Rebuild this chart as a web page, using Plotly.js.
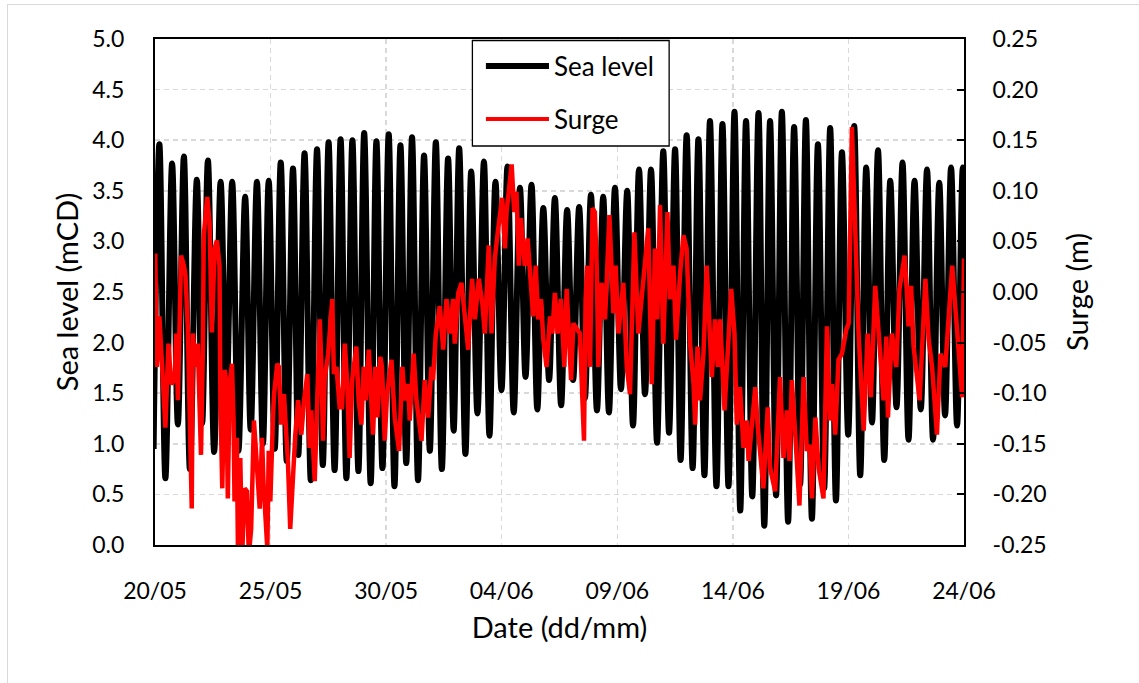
<!DOCTYPE html>
<html>
<head>
<meta charset="utf-8">
<script src="https://cdn.plot.ly/plotly-3.0.1.min.js"></script>
<style>
html,body{margin:0;padding:0;background:#fff;}
#frame{position:absolute;left:7px;top:4px;width:1200px;height:720px;border:1.5px solid #d9d9d9;box-sizing:border-box;}
#chart{position:absolute;left:0;top:0;width:1139px;height:683px;}
</style>
</head>
<body>
<div id="frame"></div>
<div id="chart"></div>
<script>
// Days since 20/05 00:00
const dayTicks = [0, 5, 10, 15, 20, 25, 30, 35];
const dateLabels = ['20/05', '25/05', '30/05', '04/06', '09/06', '14/06', '19/06', '24/06'];
const levelTicks = [0, 0.5, 1, 1.5, 2, 2.5, 3, 3.5, 4, 4.5, 5];
const surgeTicks = [-0.25, -0.2, -0.15, -0.1, -0.05, 0, 0.05, 0.1, 0.15, 0.2, 0.25];
const surgeTickLabels = ['-0.25', '-0.20', '-0.15', '-0.10', '-0.05', '0.00', '0.05', '0.10', '0.15', '0.20', '0.25'];

// Sea level: high waters (time in days, level in mCD)
const highTimes = [0.19,0.74,1.25,1.81,2.29,2.84,3.34,3.90,4.41,4.92,5.44,5.97,6.47,7.01,7.51,8.03,8.54,9.05,9.58,10.11,10.62,11.12,11.64,12.15,12.68,13.16,13.68,14.23,14.73,15.25,15.79,16.29,16.80,17.30,17.83,18.35,18.86,19.39,19.90,20.43,20.94,21.46,21.99,22.50,23.00,23.51,24.01,24.55,25.07,25.57,26.11,26.61,27.12,27.65,28.16,28.68,29.21,29.72,30.25,30.77,31.28,31.81,32.34,32.86,33.40,33.93,34.44,34.95];
const highLevels = [3.96,3.77,3.84,3.61,3.80,3.59,3.59,3.44,3.59,3.60,3.78,3.72,3.87,3.91,3.98,4.01,4.00,4.07,3.99,4.06,3.95,4.03,3.85,3.98,3.82,3.92,3.69,3.79,3.59,3.74,3.53,3.56,3.33,3.43,3.31,3.34,3.46,3.44,3.53,3.50,3.71,3.71,3.89,3.91,4.05,4.01,4.19,4.16,4.28,4.19,4.27,4.19,4.28,4.13,4.20,3.96,4.12,3.88,4.14,3.73,3.90,3.60,3.78,3.60,3.71,3.58,3.73,3.73];
// Sea level: low waters
const lowTimes = [-0.06,0.45,0.99,1.51,2.04,2.56,3.09,3.61,4.14,4.67,5.18,5.70,6.20,6.74,7.26,7.77,8.28,8.80,9.33,9.84,10.36,10.87,11.38,11.89,12.41,12.92,13.43,13.95,14.47,14.99,15.52,16.03,16.54,17.05,17.57,18.09,18.60,19.12,19.64,20.16,20.68,21.20,21.72,22.24,22.74,23.26,23.77,24.29,24.81,25.32,25.84,26.36,26.87,27.39,27.91,28.42,28.95,29.46,29.99,30.51,31.02,31.55,32.08,32.60,33.13,33.66,34.18,34.70,35.21];
const lowLevels = [0.95,0.66,1.19,0.75,1.20,0.92,1.45,0.93,1.14,1.00,0.95,0.83,0.89,0.64,0.79,0.74,0.66,0.73,0.61,0.76,0.58,0.81,0.64,0.93,0.75,1.13,0.90,1.30,1.08,1.53,1.31,1.66,1.34,1.63,1.38,1.63,1.45,1.33,1.31,1.54,1.18,1.49,1.01,1.11,0.84,0.76,0.69,0.58,0.58,0.34,0.48,0.19,0.49,0.23,0.60,0.26,0.56,0.44,1.09,0.69,1.21,0.84,1.36,1.04,1.34,1.04,1.28,1.18,1.20];

// Surge (m)
const surgeTimes = [0.01,0.08,0.19,0.31,0.45,0.58,0.70,0.85,0.92,0.99,1.13,1.25,1.32,1.42,1.49,1.59,1.64,1.75,1.85,1.99,2.07,2.11,2.26,2.36,2.46,2.58,2.68,2.79,2.83,2.91,3.01,3.08,3.15,3.23,3.33,3.40,3.44,3.54,3.59,3.69,3.77,3.88,3.98,4.06,4.16,4.28,
4.53,4.63,4.70,4.79,4.86,4.92,4.99,5.10,5.15,5.29,5.36,5.46,5.58,5.68,5.75,5.85,5.97,6.07,6.19,6.33,6.45,6.59,6.69,6.76,6.91,7.01,7.13,7.20,7.27,7.34,7.49,7.67,7.74,7.85,7.99,8.09,8.21,8.32,8.42,8.53,8.71,8.81,
8.93,9.03,9.12,9.25,9.43,9.53,9.62,9.75,9.82,9.94,10.04,10.23,10.37,10.56,10.70,10.81,10.95,11.02,11.19,11.31,11.53,11.67,11.82,11.96,12.03,12.15,12.32,12.47,12.61,12.76,12.90,12.97,13.12,13.26,13.36,13.55,
13.72,13.84,14.01,14.16,14.27,14.39,14.44,14.56,14.70,14.85,15.02,15.14,15.21,15.43,15.54,15.64,15.74,15.83,16.00,16.12,16.22,16.36,16.47,16.58,16.70,16.80,16.94,17.09,17.19,17.30,17.42,17.56,17.71,17.81,18.00,18.10,
18.38,18.56,18.63,18.70,18.82,18.93,19.03,19.11,19.18,19.32,19.47,19.66,19.76,19.83,19.93,20.05,20.26,20.41,20.55,20.74,20.91,21.13,21.34,21.49,21.63,21.73,21.85,21.99,22.17,22.28,22.43,22.54,22.65,
22.72,22.86,23.00,23.15,23.30,23.37,23.47,23.58,23.73,23.87,23.97,24.09,24.23,24.35,24.45,24.64,24.93,25.07,25.17,25.31,25.46,25.60,25.68,25.97,26.07,26.32,26.51,26.61,26.83,27.04,27.19,
27.34,27.45,27.55,27.70,27.88,28.06,28.20,28.32,28.42,28.57,28.71,28.92,29.07,29.21,29.29,29.43,29.57,29.72,29.91,30.01,30.15,30.30,30.44,30.66,30.83,30.97,31.16,
31.31,31.52,31.64,31.71,31.88,32.07,32.21,32.43,32.53,32.60,32.71,32.82,33.08,33.33,33.47,33.62,33.83,33.98,34.19,34.41,34.49,34.73,34.92,35.00];
const surgeValues = [0.038,-0.074,-0.024,-0.074,-0.134,-0.051,-0.091,-0.087,-0.041,-0.107,0.036,0.026,0.016,-0.034,-0.124,-0.214,-0.041,-0.074,-0.051,-0.161,-0.057,0.056,0.094,0.069,-0.040,0.043,0.051,0.026,-0.107,-0.194,-0.077,-0.087,-0.204,-0.091,-0.071,-0.127,-0.207,-0.144,-0.26,-0.164,-0.26,-0.194,-0.197,-0.26,-0.234,-0.127,
-0.214,-0.144,-0.191,-0.221,-0.254,-0.157,-0.207,-0.127,-0.101,-0.071,-0.074,-0.131,-0.101,-0.141,-0.167,-0.234,-0.174,-0.141,-0.107,-0.141,-0.107,-0.081,-0.154,-0.117,-0.187,-0.101,-0.027,-0.074,-0.147,-0.087,-0.061,-0.007,-0.081,-0.074,-0.114,-0.114,-0.051,-0.091,-0.164,-0.087,-0.054,-0.107,
-0.131,-0.074,-0.107,-0.057,-0.141,-0.074,-0.124,-0.064,-0.074,-0.147,-0.101,-0.067,-0.124,-0.157,-0.074,-0.107,-0.091,-0.127,-0.061,-0.107,-0.147,-0.087,-0.124,-0.074,-0.087,-0.041,-0.014,-0.057,-0.007,-0.041,-0.007,-0.051,-0.001,0.009,-0.017,-0.057,
0.013,-0.027,0.013,-0.011,-0.041,0.026,0.046,-0.041,0.033,0.063,0.093,0.043,0.079,0.126,0.079,0.099,0.026,0.073,0.026,0.053,0.019,-0.024,0.026,-0.027,-0.007,-0.047,-0.074,-0.024,-0.041,-0.001,-0.041,-0.007,-0.074,0.003,-0.087,-0.031,
-0.041,-0.147,-0.007,0.026,-0.074,0.083,0.079,0.026,-0.074,0.009,-0.027,0.076,0.019,-0.021,0.026,-0.041,0.009,-0.074,-0.101,0.059,-0.041,0.009,0.063,-0.091,0.043,-0.027,0.086,-0.051,0.079,-0.007,0.026,-0.047,0.006,
0.019,0.056,0.043,-0.051,-0.091,-0.131,-0.054,-0.107,-0.061,0.026,-0.024,-0.084,-0.027,-0.074,-0.027,-0.117,0.003,-0.041,-0.131,-0.094,-0.154,-0.127,-0.167,-0.094,-0.131,-0.194,-0.114,-0.174,-0.197,-0.084,-0.164,
-0.117,-0.167,-0.087,-0.141,-0.211,-0.084,-0.157,-0.151,-0.204,-0.124,-0.174,-0.204,-0.034,-0.127,-0.091,-0.141,-0.067,-0.061,-0.037,-0.031,0.163,0.059,-0.041,-0.137,-0.041,-0.104,0.006,
-0.041,-0.107,-0.044,-0.124,-0.041,-0.074,0.003,0.036,-0.001,-0.034,0.006,-0.054,-0.107,0.013,-0.047,-0.074,-0.141,-0.061,-0.074,0.006,0.026,-0.047,-0.104,0.033];

// merge high and low waters in time order
const tide = highTimes.map((t, i) => [t, highLevels[i]])
  .concat(lowTimes.map((t, i) => [t, lowLevels[i]]))
  .sort((a, b) => a[0] - b[0]);

const FONT = 'Lato, "Open Sans", sans-serif';
const GRID = '#d9d9d9';

const traces = [
  {x: tide.map(p => p[0]), y: tide.map(p => p[1]), type: 'scatter', mode: 'lines', name: 'Sea level',
   line: {color: '#000000', width: 6, shape: 'spline', smoothing: 1}, yaxis: 'y', hoverinfo: 'skip'},
  {x: surgeTimes, y: surgeValues, type: 'scatter', mode: 'lines', name: 'Surge',
   line: {color: '#ff0000', width: 4.5}, yaxis: 'y2', hoverinfo: 'skip'}
];

const px = v => (v - 155.5) / 808;
const py = v => (545 - v) / 506;

const layout = {
  width: 1139, height: 683,
  margin: {l: 155, r: 175, t: 39, b: 138, pad: 0},
  paper_bgcolor: 'rgba(0,0,0,0)', plot_bgcolor: 'rgba(0,0,0,0)',
  showlegend: false,
  font: {family: FONT, size: 23, color: '#000'},
  xaxis: {
    range: [0, 35], tickvals: dayTicks, ticktext: dateLabels,
    showgrid: true, gridcolor: GRID, gridwidth: 1.5, griddash: '5px,4px',
    showline: true, linecolor: '#000', linewidth: 2, mirror: true,
    ticks: '', zeroline: false, ticklabelstandoff: 24,
    tickfont: {family: FONT, size: 23, color: '#000'},
    title: {text: 'Date (dd/mm)', font: {family: FONT, size: 29, color: '#000'}, standoff: 15}
  },
  yaxis: {
    range: [0, 5], tickvals: levelTicks, tickformat: '.1f',
    showgrid: true, gridcolor: GRID, gridwidth: 1.5, griddash: '5px,4px',
    showline: true, linecolor: '#000', linewidth: 2,
    ticks: '', zeroline: false, ticklabelstandoff: 24,
    tickfont: {family: FONT, size: 23, color: '#000'},
    title: {text: 'Sea level (mCD)', font: {family: FONT, size: 29, color: '#000'}, standoff: 5}
  },
  yaxis2: {
    overlaying: 'y', side: 'right', range: [-0.25, 0.25],
    tickvals: surgeTicks, ticktext: surgeTickLabels,
    showgrid: false, showline: true, linecolor: '#000', linewidth: 2,
    ticks: 'inside', ticklen: 7, tickwidth: 2, tickcolor: '#000',
    zeroline: false, ticklabelstandoff: 22,
    tickfont: {family: FONT, size: 23, color: '#000'},
    title: {text: 'Surge (m)', font: {family: FONT, size: 29, color: '#000'}, standoff: 22}
  },
  shapes: [
    {type: 'rect', xref: 'paper', yref: 'paper', x0: px(472.5), x1: px(669), y0: py(146), y1: py(40.5),
     line: {color: '#000', width: 1.3}, fillcolor: '#ffffff', layer: 'above'},
    {type: 'line', xref: 'paper', yref: 'paper', x0: px(486), x1: px(549), y0: py(66), y1: py(66),
     line: {color: '#000', width: 6}, layer: 'above'},
    {type: 'line', xref: 'paper', yref: 'paper', x0: px(486), x1: px(549), y0: py(119), y1: py(119),
     line: {color: '#ff0000', width: 4}, layer: 'above'}
  ],
  annotations: [
    {xref: 'paper', yref: 'paper', x: px(552), y: py(66), xanchor: 'left', yanchor: 'middle',
     text: 'Sea level', showarrow: false, font: {family: FONT, size: 26, color: '#000'}},
    {xref: 'paper', yref: 'paper', x: px(552), y: py(119), xanchor: 'left', yanchor: 'middle',
     text: 'Surge', showarrow: false, font: {family: FONT, size: 26, color: '#000'}}
  ]
};

Plotly.newPlot('chart', traces, layout, {staticPlot: true, displayModeBar: false});
</script>
</body>
</html>
